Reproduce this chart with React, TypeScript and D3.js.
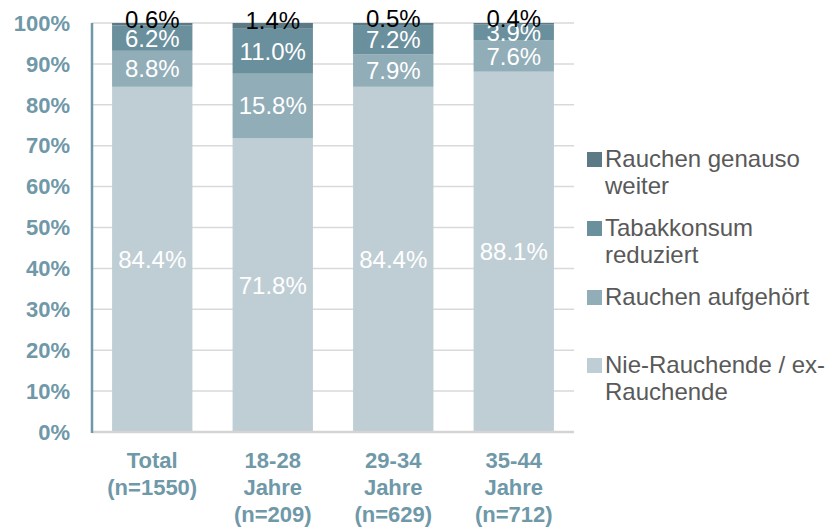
import * as d3 from "d3";

const categories = ["Total", "18-28", "29-34", "35-44"];
const categoryLines = [
  ["Total", "(n=1550)"],
  ["18-28", "Jahre", "(n=209)"],
  ["29-34", "Jahre", "(n=629)"],
  ["35-44", "Jahre", "(n=712)"],
];

// series, bottom to top
const seriesNames = [
  "Nie-Rauchende / ex-Rauchende",
  "Rauchen aufgehört",
  "Tabakkonsum reduziert",
  "Rauchen genauso weiter",
];
const nieRauchende = [84.4, 71.8, 84.4, 88.1];
const aufgehoert = [8.8, 15.8, 7.9, 7.6];
const reduziert = [6.2, 11.0, 7.2, 3.9];
const genausoWeiter = [0.6, 1.4, 0.5, 0.4];

const legendLines = [
  ["Rauchen genauso", "weiter"],
  ["Tabakkonsum", "reduziert"],
  ["Rauchen aufgehört"],
  ["Nie-Rauchende / ex-", "Rauchende"],
];

const yTicks = [0, 10, 20, 30, 40, 50, 60, 70, 80, 90, 100];

const colors = ["#bfced5", "#91adb8", "#6a8f9d", "#5b7a86"];
const labelColors = ["#ffffff", "#ffffff", "#ffffff", "#000000"];
const axisColor = "#6f98a8";
const font = "'Liberation Sans', Arial, sans-serif";

export default function App() {
  const width = 838;
  const height = 528;
  const left = 92;
  const right = 574;
  const top = 23;
  const bottom = 432;

  const rows = categories.map((c, i) => ({
    cat: c,
    s0: nieRauchende[i],
    s1: aufgehoert[i],
    s2: reduziert[i],
    s3: genausoWeiter[i],
  }));
  const stack = d3.stack<any>().keys(["s0", "s1", "s2", "s3"]);
  const layers = stack(rows);

  const x = d3.scaleBand<string>().domain(categories).range([left, right]).paddingInner(1 / 3).paddingOuter(1 / 6);
  const y = d3.scaleLinear().domain([0, 100]).range([bottom, top]);

  // legend: index 0 in legend is top series
  const legendY = [167, 236, 305, 373];

  return (
    <svg width={width} height={height} style={{ position: "absolute", left: 0, top: 0, background: "#fff" }}>
      {yTicks.map((t) =>
        t > 0 ? (
          <line key={"g" + t} x1={left} x2={right} y1={y(t)} y2={y(t)} stroke="#d9d9d9" strokeWidth={1.5} />
        ) : null
      )}
      {layers.map((layer, li) =>
        layer.map((d, i) => (
          <rect
            key={li + "-" + i}
            x={x(categories[i])}
            width={x.bandwidth()}
            y={y(d[1])}
            height={y(d[0]) - y(d[1])}
            fill={colors[li]}
          />
        ))
      )}
      <line x1={left} x2={right} y1={bottom} y2={bottom} stroke="#d4d4d4" strokeWidth={2.5} />
      <line x1={left} x2={left} y1={top} y2={bottom + 1} stroke={axisColor} strokeWidth={2.5} />
      {layers.map((layer, li) =>
        layer.map((d, i) => {
          const v = d[1] - d[0];
          const cy = (y(d[0]) + y(d[1])) / 2 + (li === 3 ? -5 : 0);
          return (
            <text
              key={"l" + li + "-" + i}
              x={(x(categories[i]) as number) + x.bandwidth() / 2}
              y={cy}
              dy="0.35em"
              textAnchor="middle"
              fontFamily={font}
              fontSize={24}
              fill={labelColors[li]}
            >
              {v.toFixed(1) + "%"}
            </text>
          );
        })
      )}
      {yTicks.map((t) => (
        <text
          key={"t" + t}
          x={70}
          y={y(t)}
          dy="0.35em"
          textAnchor="end"
          fontFamily={font}
          fontWeight="bold"
          fontSize={22}
          fill={axisColor}
        >
          {t + "%"}
        </text>
      ))}
      {categoryLines.map((lines, i) => (
        <text
          key={"c" + i}
          textAnchor="middle"
          fontFamily={font}
          fontWeight="bold"
          fontSize={22}
          fill={axisColor}
        >
          {lines.map((ln, k) => (
            <tspan key={k} x={(x(categories[i]) as number) + x.bandwidth() / 2} y={468 + k * 27}>
              {ln}
            </tspan>
          ))}
        </text>
      ))}
      {legendLines.map((lines, k) => {
        const si = 3 - k;
        return (
          <g key={"lg" + k}>
            <rect x={587} y={legendY[k] - 15} width={15} height={15} fill={colors[si]} />
            <text fontFamily={font} fontSize={24} fill="#595959">
              {lines.map((ln, j) => (
                <tspan key={j} x={605} y={legendY[k] + j * 27}>
                  {ln}
                </tspan>
              ))}
            </text>
          </g>
        );
      })}
    </svg>
  );
}
